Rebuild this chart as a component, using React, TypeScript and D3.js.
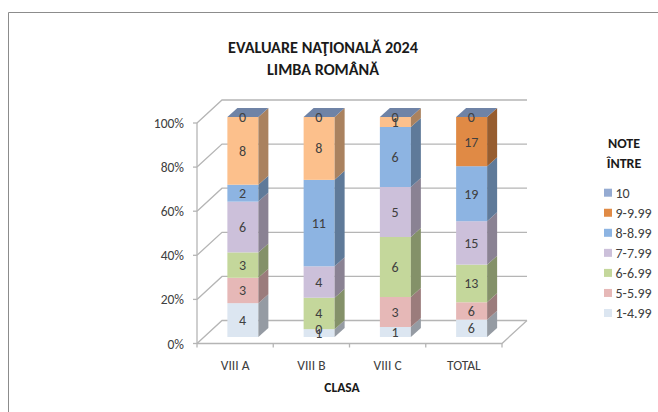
import React from 'react'
import * as d3 from 'd3'

const classes = ['VIII A', 'VIII B', 'VIII C', 'TOTAL']
const legendLabels = ['1-4.99', '5-5.99', '6-6.99', '7-7.99', '8-8.99', '9-9.99', '10']
const note1 = [4, 1, 1, 6]
const note5 = [3, 0, 3, 6]
const note6 = [3, 4, 6, 13]
const note7 = [6, 4, 5, 15]
const note8 = [2, 11, 6, 19]
const note9 = [8, 8, 1, 17]
const note10 = [0, 0, 0, 0]
const seriesValues = [note1, note5, note6, note7, note8, note9, note10]
const percentTicks = [0, 0.2, 0.4, 0.6, 0.8, 1]

const seriesColors = ['#dce6f1', '#e6b8b7', '#c4d79b', '#ccc0da', '#8db4e2', '#e08a45', '#95abd2']
// the class columns use a paler orange than TOTAL for 9-9.99
const paleOrange = '#fcc08c'

const FONT = 'Carlito, Calibri, Lato, "Open Sans", sans-serif'
const TEXT = '#404040'
const GRID = '#b5b5b5'

const W = 658
const H = 412
const depthX = 25
const depthY = 23
const barDepthX = 10
const barDepthY = 9

const App = () => {
  const x = d3.scaleBand<string>().domain(classes).range([197, 502]).paddingInner(0.6).paddingOuter(0.3)
  const y = d3.scaleLinear().domain([0, 1]).range([343.5, 123])
  const barY = d3.scaleLinear().domain([0, 1]).range([337, 117])

  const totals = classes.map((_, i) => d3.sum(seriesValues, (s) => s[i]))
  const rows = classes.map((name, i) => {
    const row: Record<string, any> = { name }
    legendLabels.forEach((l, j) => { row[l] = seriesValues[j][i] / totals[i] })
    return row
  })
  const stacked = d3.stack<any>().keys(legendLabels)(rows)

  const shade = (c: string, k: number) => d3.color(c)!.darker(k).formatHex()
  const colorFor = (si: number, ci: number) => (si === 5 && ci < 3 ? paleOrange : seriesColors[si])
  const wallEnd = x.range()[1] + depthX

  return (
    <svg width={W} height={H} style={{ position: 'absolute', left: 0, top: 0, background: '#fff' }} fontFamily={FONT}>
      <path d={`M8.5 ${H}V12.5H${W}`} fill="none" stroke="#8c8c8c" strokeWidth={1} />

      <g fontWeight={700} fontSize={16} fill="#1a1a1a" textAnchor="middle">
        <text x={323} y={53} textLength={190} lengthAdjust="spacingAndGlyphs">EVALUARE NAŢIONALĂ 2024</text>
        <text x={323} y={75} textLength={112} lengthAdjust="spacingAndGlyphs">LIMBA ROMÂNĂ</text>
      </g>

      {/* gridlines: back wall, side and floor */}
      <g fill="none" stroke={GRID} strokeWidth={1.3}>
        {percentTicks.map((t) => (
          <path key={t} d={`M${x.range()[0]} ${y(t)}L${x.range()[0] + depthX} ${y(t) - depthY}H${wallEnd}`} />
        ))}
        <path d={`M${x.range()[0]} ${y(0)}V${y(1)}`} />
        <path d={`M${x.range()[0]} ${y(0)}H${x.range()[1]}L${wallEnd} ${y(0) - depthY}`} />
        {percentTicks.map((t) => (
          <path key={t} d={`M${x.range()[0] - 4} ${y(t)}H${x.range()[0]}`} />
        ))}
        {d3.range(classes.length + 1).map((i) => {
          const px = x.range()[0] + i * x.step()
          return <path key={i} d={`M${px} ${y(0)}v4`} />
        })}
      </g>

      <g fontSize={13.5} fill={TEXT} textAnchor="end">
        {percentTicks.map((t) => (
          <text key={t} x={184} y={y(t) + 5}>{d3.format('.0%')(t)}</text>
        ))}
      </g>

      {/* bars, bottom segment first so upper ones overlap */}
      {classes.map((c, ci) => {
        const bw = x.bandwidth() + 0.5
        const bx = (x(c) as number) + 7.5
        return (
          <g key={c}>
            {stacked.map((s, si) => {
              const y0 = barY(s[ci][0])
              const y1 = barY(s[ci][1])
              const col = colorFor(si, ci)
              return (
                <g key={s.key}>
                  <rect x={bx} y={y1} width={bw} height={y0 - y1} fill={col} />
                  <path
                    d={`M${bx + bw} ${y0}V${y1}l${barDepthX} ${-barDepthY}V${y0 - barDepthY}Z`}
                    fill={shade(col, 1.1)}
                  />
                </g>
              )
            })}
            <path
              d={`M${bx} ${barY(1)}h${bw}l${barDepthX} ${-barDepthY}h${-bw}Z`}
              fill="#6f83a6"
            />
          </g>
        )
      })}

      {/* value labels */}
      <g fontSize={14} fill={TEXT} textAnchor="middle">
        {classes.map((c, ci) => {
          const bx = (x(c) as number) + 7.5 + x.bandwidth() / 2
          return stacked.map((s, si) => (
            <text key={s.key} x={bx} y={barY((s[ci][0] + s[ci][1]) / 2) + 5}>
              {seriesValues[si][ci]}
            </text>
          ))
        })}
      </g>

      <g fontSize={13.5} fill={TEXT} textAnchor="middle">
        {classes.map((c) => (
          <text key={c} x={(x(c) as number) + x.bandwidth() / 2} y={369.5}>{c}</text>
        ))}
      </g>
      <text x={342} y={391.5} fontSize={13.5} fontWeight={700} fill="#1a1a1a" textAnchor="middle">CLASA</text>

      <g fontSize={14} fontWeight={700} fill="#1a1a1a" textAnchor="middle">
        <text x={624} y={148}>NOTE</text>
        <text x={624} y={168}>ÎNTRE</text>
      </g>
      <g fontSize={14} fill={TEXT}>
        {legendLabels.map((l, i) => {
          const ly = 313 - i * 20.05
          return (
            <g key={l}>
              <rect x={604} y={ly - 4} width={8} height={8} fill={seriesColors[i]} />
              <text x={615.5} y={ly + 5}>{l}</text>
            </g>
          )
        })}
      </g>
    </svg>
  )
}

export default App
